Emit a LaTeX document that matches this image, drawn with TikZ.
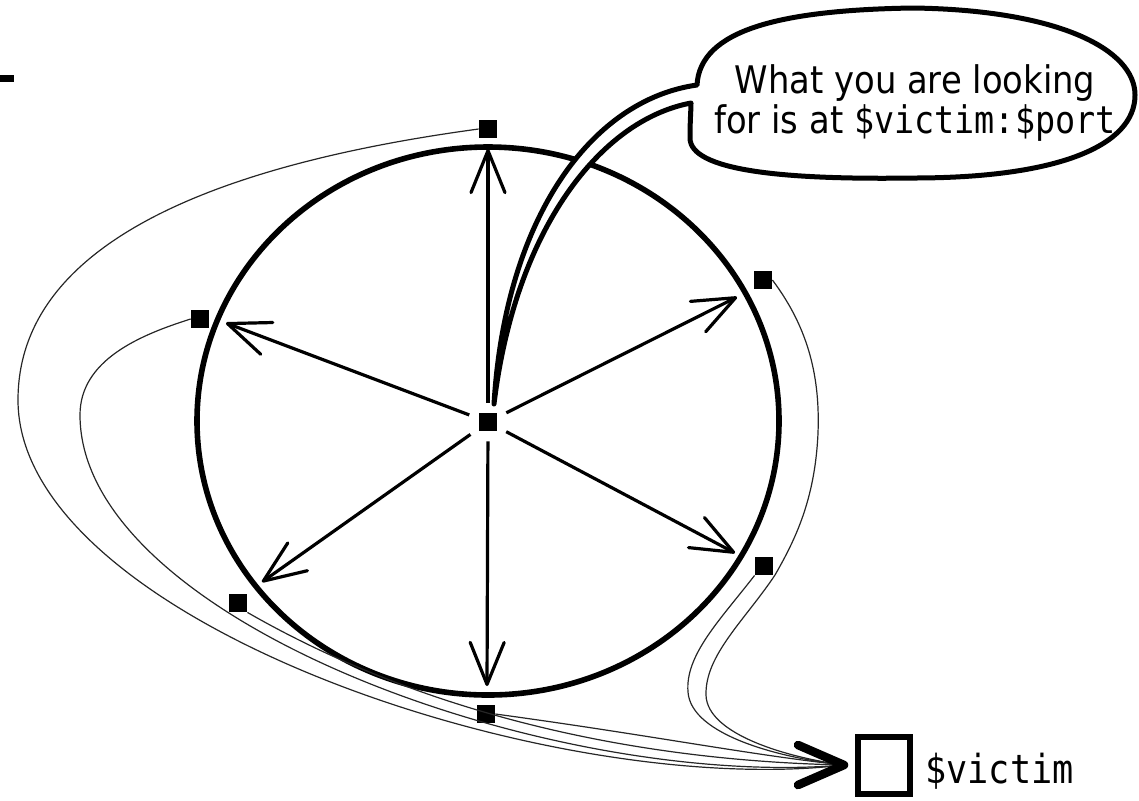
\documentclass[tikz,border=0pt]{standalone}
\usepackage{fontspec}
\setmainfont{DejaVu Sans}
\setmonofont{DejaVu Sans Mono}
\newfontfamily\narrowsans[FakeStretch=0.89]{DejaVu Sans}
\newfontfamily\narrowmono[FakeStretch=0.88]{DejaVu Sans Mono}
\usetikzlibrary{positioning, arrows.meta}

\begin{document}
\begin{tikzpicture}[
		x=0.5pt, y=-0.5pt,
		ring/.style={line width=2.8pt},
		ray/.style={line width=1.6pt, -{Straight Barb[length=21pt, width=17pt, round]}, shorten <=5pt},
		port/.style={fill=black, inner sep=0pt, minimum size=9pt},
		wire/.style={line width=0.6pt, black!85},
		bubble/.style={draw, line width=2.5pt, fill=white, line join=round},
		speech/.style={font=\narrowsans\fontsize{19}{20}\selectfont, align=center, inner sep=0pt},
		target/.style={draw, line width=3pt, minimum width=26pt, minimum height=28.5pt, inner sep=0pt},
		tag/.style={font=\narrowmono\fontsize{20}{22}\selectfont, inner sep=0pt},
		head/.style={line width=4.3pt, line cap=round, line join=round}
		]
		\useasboundingbox (0,0) rectangle (1139,800);
		
		% --- Ring and hub ---
		\draw[ring] (488,421) ellipse [x radius=291, y radius=274];
		\node[port] (hub) at (488,422) {};
		
		\coordinate (tN) at (488,149);
		\coordinate (tNE) at (737,297);
		\coordinate (tSE) at (735,553);
		\coordinate (tS) at (487,686);
		\coordinate (tSW) at (262,582);
		\coordinate (tNW) at (226,323);
		\foreach \t in {tN, tNE, tSE, tS, tSW, tNW}
			\draw[ray] (hub) -- (\t);
		
		% --- Ports ---
		\node[port] (pN) at (488,129) {};
		\node[port] (pNE) at (763,280) {};
		\node[port] (pSE) at (764,566) {};
		\node[port] (pS) at (486,714) {};
		\node[port] (pSW) at (238,603) {};
		\node[port] (pNW) at (200,319) {};
		
		% --- Victim ---
		\node[target] (victim) at (884,765) {};
		\node[tag, right=6pt of victim, yshift=-3pt] (victimlabel) {\$victim};
		\coordinate (vtip) at ([xshift=-5.5pt]victim.west);
		
		% --- Wires to the victim ---
		\draw[wire] (pN.west) .. controls (250,160) and (18,230) .. (18,400)
			.. controls (18,620) and (550,800) .. (vtip);
		\draw[wire] (pNW.west) .. controls (140,335) and (80,360) .. (80,415)
			.. controls (80,620) and (550,790) .. (vtip);
		\draw[wire] (pSW.south east) .. controls (400,700) and (600,760) .. (vtip);
		\draw[wire] (pS.east) .. controls (650,735) and (750,755) .. (vtip);
		\draw[wire] (pNE.east) .. controls (810,330) and (820,380) .. (818,433)
			.. controls (815,500) and (795,540) .. (775,575)
			.. controls (745,620) and (705,655) .. (706,695)
			.. controls (707,735) and (790,758) .. (vtip);
		\draw[wire] (pSE.south west) .. controls (720,620) and (685,655) .. (688,692)
			.. controls (691,735) and (780,758) .. (vtip);
		\draw[head] ([shift={(-23pt,-10pt)}]vtip) -- (vtip) -- ([shift={(-23pt,10pt)}]vtip);
		
		% --- Speech bubble ---
		\draw[bubble] (494,404) .. controls (505,220) and (590,100) .. (697,85)
			.. controls (700,30) and (780,10) .. (913,8)
			.. controls (1060,10) and (1135,50) .. (1135,95)
			.. controls (1135,145) and (1060,178) .. (913,178)
			.. controls (780,180) and (690,170) .. (690,138)
			.. controls (690,120) and (691,110) .. (691,103)
			.. controls (600,120) and (515,230) .. (494,404) -- cycle;
		\node[speech] (msg) at (915,103) {What you are looking\\for is at {\narrowmono\$victim:\$port}};
		
		% --- Edge mark ---
		\fill (0,75) rectangle (14,82);
		
	\end{tikzpicture}
\end{document}
